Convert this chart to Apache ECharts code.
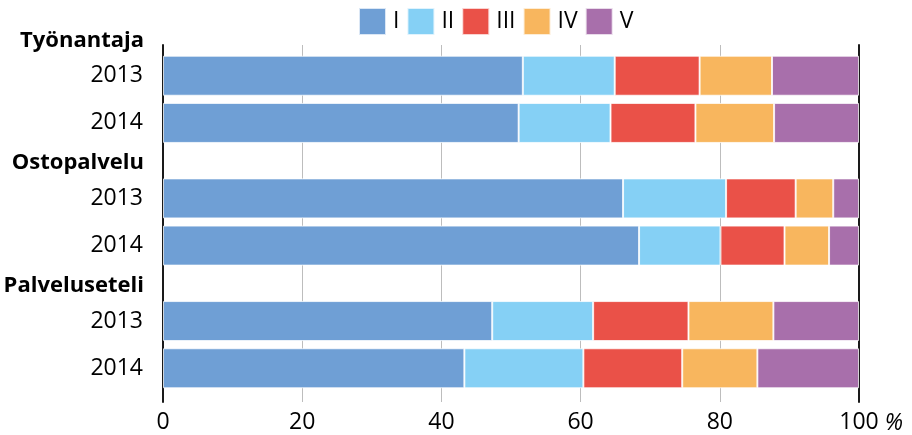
<!DOCTYPE html>
<html>
<head>
<meta charset="utf-8">
<script src="https://cdn.jsdelivr.net/npm/echarts@6/dist/echarts.min.js"></script>
<style>
  html, body { margin: 0; padding: 0; background: #fff; }
  #chart { width: 912px; height: 435px; }
</style>
</head>
<body>
<div id="chart"></div>
<script>
// Groups (y axis), years (one stacked bar per year inside each group) and classes (stack segments)
const groups = ['Työnantaja', 'Ostopalvelu', 'Palveluseteli'];
const years = ['2013', '2014'];
const classes = ['I', 'II', 'III', 'IV', 'V'];
const classColors = ['#6f9fd5', '#85d0f5', '#ea5148', '#f8b65e', '#a86fab'];

// Share (%) of each class, one row per class, one column per group
const shares2013 = [
  [51.7, 66.1, 47.3],
  [13.2, 14.8, 14.5],
  [12.2, 10.0, 13.7],
  [10.4, 5.4, 12.2],
  [12.5, 3.7, 12.3]
];
const shares2014 = [
  [51.1, 68.4, 43.3],
  [13.2, 11.7, 17.1],
  [12.2, 9.2, 14.2],
  [11.3, 6.4, 10.8],
  [12.2, 4.3, 14.6]
];
const sharesByYear = [shares2013, shares2014];

// Axis range
const axisMin = 0;
const axisMax = 100;
const axisStep = 20;
const axisUnit = '%';

const FONT = '"Open Sans", "Noto Sans", sans-serif';

const series = [];
years.forEach((year, yi) => {
  classes.forEach((cls, ci) => {
    series.push({
      type: 'bar',
      name: cls,
      stack: year,
      xAxisIndex: 0,
      yAxisIndex: 0,
      barWidth: 40,
      barGap: '18%',
      data: sharesByYear[yi][ci],
      itemStyle: {
        color: classColors[ci],
        borderColor: 'rgba(255,255,255,0.75)',
        borderWidth: 1
      },
      label: ci === 0 ? {
        show: true,
        position: 'left',
        distance: 20,
        formatter: () => year,
        color: '#000',
        fontFamily: FONT,
        fontSize: 23
      } : { show: false },
      emphasis: { disabled: true },
      silent: true
    });
  });
});

const chart = echarts.init(document.getElementById('chart'), null, { renderer: 'canvas' });
chart.setOption({
  animation: false,
  backgroundColor: '#fff',
  legend: {
    data: classes,
    left: 358,
    top: 7,
    padding: 0,
    icon: 'rect',
    itemWidth: 27,
    itemHeight: 27,
    itemGap: 7,
    formatter: name => '{t|' + name + '}',
    textStyle: {
      color: '#000',
      fontFamily: FONT,
      fontSize: 23,
      rich: {
        t: {
          color: '#000',
          fontFamily: FONT,
          fontSize: 23,
          width: 25,
          padding: [0, 0, 0, 2]
        }
      }
    },
    selectedMode: false
  },
  grid: [
    // bars
    { left: 163, right: 53, top: 38, bottom: 29, outerBoundsMode: 'none', containLabel: false },
    // axis frame and gridlines
    { left: 163, right: 53, top: 45, bottom: 33, outerBoundsMode: 'none', containLabel: false }
  ],
  xAxis: [
    { gridIndex: 0, type: 'value', min: axisMin, max: axisMax, interval: axisStep, show: false },
    {
      gridIndex: 1,
      type: 'value',
      min: axisMin,
      max: axisMax,
      interval: axisStep,
      name: axisUnit,
      nameLocation: 'end',
      nameGap: 24,
      nameTextStyle: {
        color: '#000',
        fontFamily: FONT,
        fontSize: 23,
        fontStyle: 'italic',
        align: 'left',
        verticalAlign: 'top',
        lineHeight: 43
      },
      axisLine: { show: false },
      axisTick: { show: false },
      axisLabel: {
        color: '#000',
        fontFamily: FONT,
        fontSize: 23,
        margin: 9
      },
      splitLine: { show: true, lineStyle: { color: '#bdbdbd', width: 1 } }
    }
  ],
  yAxis: [
    {
      gridIndex: 0,
      type: 'category',
      inverse: true,
      data: groups,
      axisLine: { show: false },
      axisTick: { show: false },
      splitLine: { show: false },
      axisLabel: {
        interval: 0,
        hideOverlap: false,
        margin: 19,
        // group name sits on the first line, above the pair of bars
        formatter: name => '{h|' + name + '}\n\u00a0\n\u00a0\n\u00a0\n\u00a0',
        lineHeight: 29.5,
        color: '#000',
        fontFamily: FONT,
        fontSize: 22,
        fontWeight: 'bold',
        rich: {
          h: {
            color: '#000',
            fontFamily: FONT,
            fontSize: 22,
            fontWeight: 'bold',
            lineHeight: 29.5
          }
        }
      }
    },
    {
      gridIndex: 1,
      type: 'value',
      position: 'left',
      min: 0,
      max: 1,
      axisLine: { show: true, lineStyle: { color: '#1a1a1a', width: 2 } },
      axisTick: { show: false },
      axisLabel: { show: false },
      splitLine: { show: false }
    },
    {
      gridIndex: 1,
      type: 'value',
      position: 'right',
      min: 0,
      max: 1,
      axisLine: { show: true, lineStyle: { color: '#1a1a1a', width: 2 } },
      axisTick: { show: false },
      axisLabel: { show: false },
      splitLine: { show: false }
    }
  ],
  series: series
});
</script>
</body>
</html>
